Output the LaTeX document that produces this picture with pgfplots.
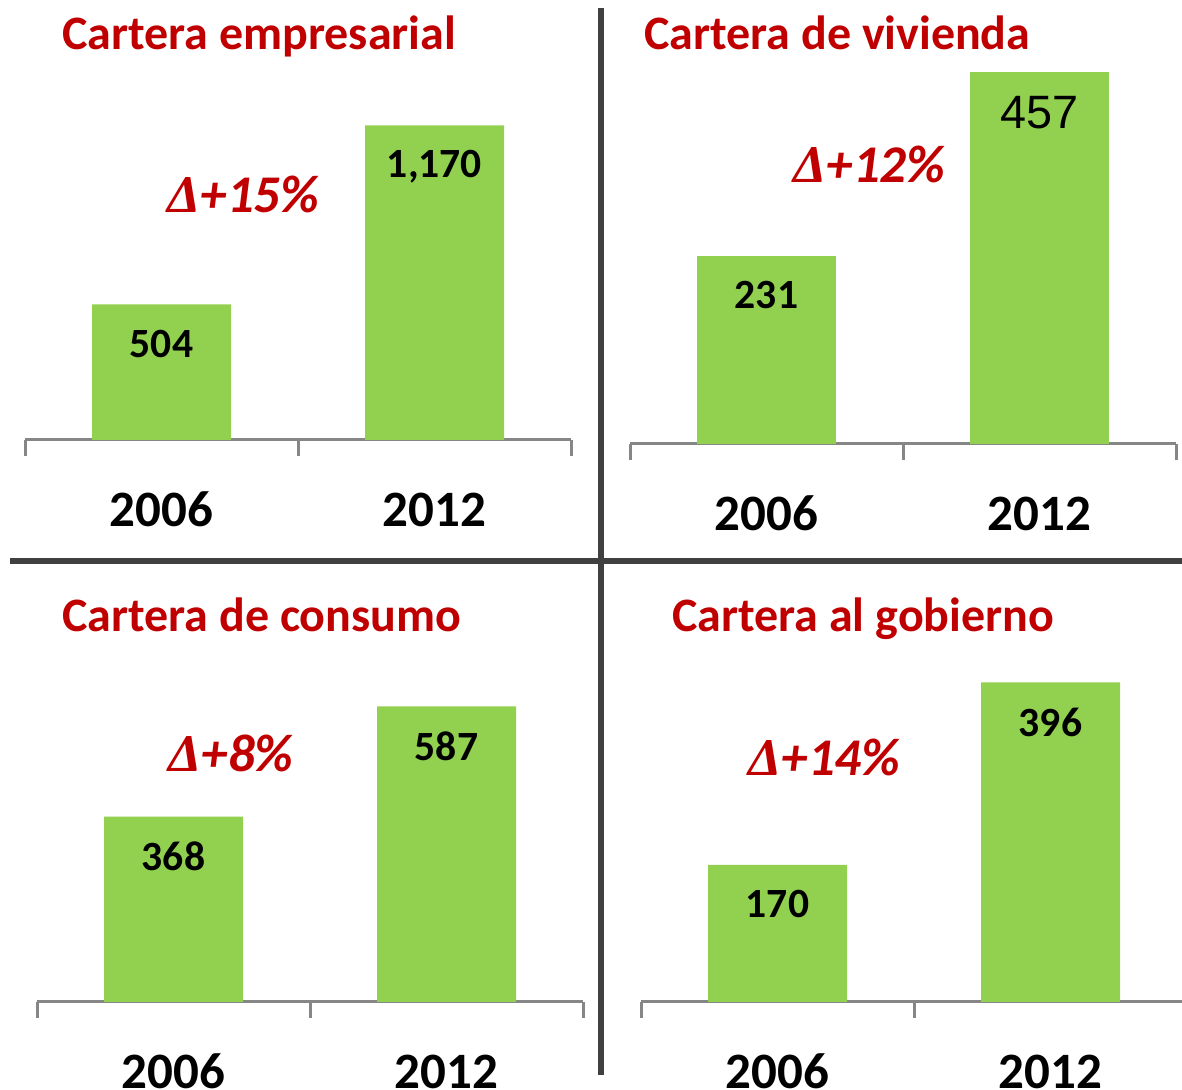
\documentclass[border=0pt]{standalone}
\usepackage{pgfplots}
\pgfplotsset{compat=1.18}
\usepackage{fontspec}
\setmainfont{Carlito}
\newfontfamily\arialf{Liberation Sans}
\newfontfamily\serf{Liberation Serif}
\newcommand\D{{\serf\itshape Δ}}
\definecolor{barg}{HTML}{92D050}
\definecolor{tred}{HTML}{C00000}
\definecolor{sepc}{HTML}{404040}
\definecolor{axg}{HTML}{868686}
\pgfplotsset{
  panel/.style={
    scale only axis, width=273pt, height=200pt,
    xmin=-0.5, xmax=1.5, ymin=0,
    anchor=south west,
    axis x line*=bottom, axis y line=none,
    x axis line style={axg, line width=1.5pt, -},
    tick align=outside,
    xtick={0,1}, xticklabels={2006,2012},
    major tick length=0pt,
    extra x ticks={-0.5,0.5,1.5}, extra x tick labels={},
    extra x tick style={major tick length=8pt, tick style={axg, line width=1.5pt}},
    xticklabel style={font=\fontsize{25.5}{30}\selectfont\bfseries, anchor=base, yshift=-43.5pt},
    ybar, bar width=69.5pt, bar shift=0pt,
    clip=false,
    nodes near coords, point meta=explicit symbolic,
    every node near coord/.append style={anchor=north, inner sep=0pt, yshift=-12.5pt, font=\fontsize{20.8}{24}\selectfont\bfseries, text=black},
  },
  barstyle/.style={fill=barg, draw=none},
}
\begin{document}
\begin{tikzpicture}
\useasboundingbox (0,0) rectangle (591pt,545pt);
\clip (0,0) rectangle (591pt,545pt);
% separators
\draw[sepc, line width=3pt] (300.5pt,541pt) -- (300.5pt,7.5pt);
\draw[sepc, line width=3pt] (5pt,264.5pt) -- (591pt,264.5pt);
% Panel 1
\begin{axis}[panel, at={(12.5pt,325pt)}, ymax=1487]
\addplot[barstyle] coordinates {(0,504) [504] (1,1170) [{1,170}]};
\end{axis}
% Panel 2
\begin{axis}[panel, at={(315pt,323pt)}, ymax=492]
\addplot[barstyle] coordinates {(0,231) [231]};
\addplot[barstyle, every node near coord/.append style={font=\fontsize{23.4}{27}\selectfont\arialf, yshift=1pt}] coordinates {(1,457) [457]};
\end{axis}
% Panel 3
\begin{axis}[panel, at={(18.5pt,44pt)}, ymax=794.4]
\addplot[barstyle] coordinates {(0,368) [368] (1,587) [587]};
\end{axis}
% Panel 4
\begin{axis}[panel, at={(320.5pt,44pt)}, ymax=495.7]
\addplot[barstyle] coordinates {(0,170) [170] (1,396) [396]};
\end{axis}
% titles
\begin{scope}[every node/.style={inner sep=0pt, anchor=base west, text=tred, font=\fontsize{24}{28}\selectfont\bfseries}]
\node at (31pt,520pt) {Cartera empresarial};
\node at (322pt,520pt) {Cartera de vivienda};
\node at (31pt,229pt) {Cartera de consumo};
\node at (336pt,229pt) {Cartera al gobierno};
\end{scope}
\begin{scope}[every node/.style={inner sep=0pt, anchor=base west, text=tred, font=\fontsize{26.5}{30}\selectfont\bfseries\itshape}]
\node at (83.5pt,438.5pt) {\D+15\%};
\node at (396.5pt,453.5pt) {\D+12\%};
\node at (84pt,159pt) {\D+8\%};
\node at (374pt,157pt) {\D+14\%};
\end{scope}
\end{tikzpicture}
\end{document}
